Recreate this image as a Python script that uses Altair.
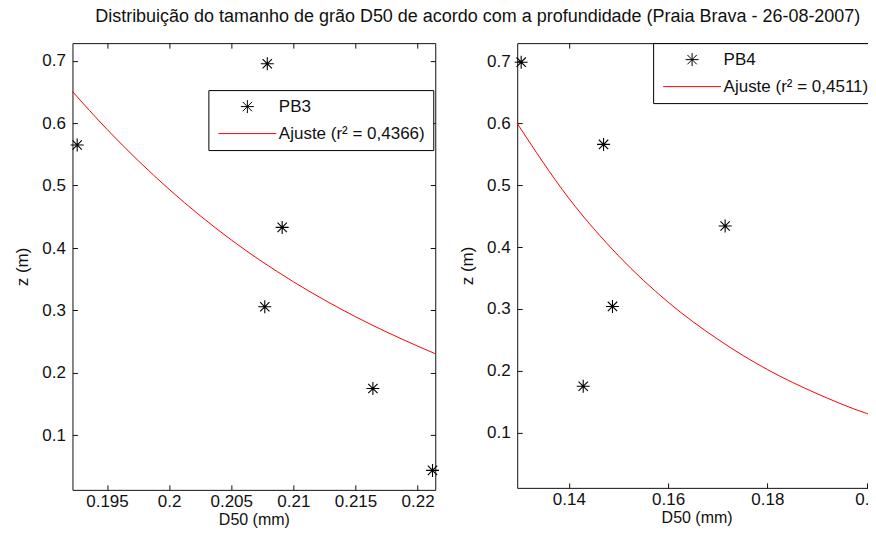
import altair as alt
import pandas as pd

FONT = "Liberation Sans"
TITLE = "Distribuição do tamanho de grão D50 de acordo com a profundidade (Praia Brava - 26-08-2007)"

# ---- PB3 (left panel) ----
pb3_name = "PB3"
pb3_fit_name = "Ajuste (r² = 0,4366)"
pb3_d50 = [0.1926, 0.2079, 0.2091, 0.2077, 0.2164, 0.2212]
pb3_z = [0.565, 0.695, 0.433, 0.306, 0.175, 0.044]
pb3_fit_d50 = [0.1922, 0.195, 0.200, 0.205, 0.210, 0.215, 0.220, 0.2214]
pb3_fit_z = [0.651, 0.590, 0.494, 0.413, 0.346, 0.290, 0.243, 0.231]
pb3_xticks = [0.195, 0.2, 0.205, 0.21, 0.215, 0.22]
pb3_xdomain = [0.19222, 0.22142]
pb3_ydomain = [0.0128, 0.728]

# ---- PB4 (right panel) ----
pb4_name = "PB4"
pb4_fit_name = "Ajuste (r² = 0,4511)"
pb4_d50 = [0.1304, 0.1470, 0.1715, 0.1488, 0.1429, 0.2017]
pb4_z = [0.699, 0.566, 0.434, 0.304, 0.175, 0.044]
pb4_fit_d50 = [0.1296, 0.14, 0.15, 0.16, 0.17, 0.18, 0.19, 0.20, 0.2019]
pb4_fit_z = [0.600, 0.479, 0.386, 0.311, 0.251, 0.202, 0.163, 0.131, 0.126]
pb4_xticks = [0.14, 0.16, 0.18, 0.2]
pb4_xdomain = [0.1296, 0.2019]
pb4_ydomain = [0.0106, 0.7298]

yticks = [0.1, 0.2, 0.3, 0.4, 0.5, 0.6, 0.7]

ASTERISK = "M-1,0L1,0M0,-1L0,1M-0.72,-0.72L0.72,0.72M-0.72,0.72L0.72,-0.72"
LEGLINE = "M-4.45,0L4.45,0"
INK = "#111111"
FS = 17


def panel(d50, z, fit_d50, fit_z, name, fit_name, xticks, xdom, ydom, W, H, lx, ly, right_border):
    pts = pd.DataFrame({"D50": d50, "z": z, "serie": name})
    fit = pd.DataFrame({"D50": fit_d50, "z": fit_z})
    xs = alt.Scale(domain=xdom, nice=False, zero=False)
    ys = alt.Scale(domain=ydom, nice=False, zero=False)
    leg = alt.Legend(
        title=None, titlePadding=0, orient="none", legendX=lx, legendY=ly,
        fillColor="white", strokeColor="black", padding=8, cornerRadius=0,
        symbolOffset=22.5, labelOffset=23, rowPadding=9, symbolSize=169,
        symbolStrokeWidth=1, labelFont=FONT, labelFontSize=FS,
        labelColor=INK, labelLimit=300,
    )
    points = alt.Chart(pts).mark_point(filled=False, size=169, strokeWidth=1.1, opacity=1).encode(
        x=alt.X("D50:Q", scale=xs, axis=alt.Axis(
            orient="bottom", values=xticks, format="~g", title="D50 (mm)",
            ticks=False, tickSize=0, labelPadding=4, titlePadding=2,
            labelFontSize=17, titleFontSize=16, domain=True)),
        y=alt.Y("z:Q", scale=ys, axis=alt.Axis(
            orient="left", values=yticks, format=".1f", title="z (m)",
            ticks=False, tickSize=0, labelPadding=7, titlePadding=10, domain=True)),
        color=alt.Color("serie:N", scale=alt.Scale(domain=[name, fit_name], range=["black", "red"]), legend=leg),
        shape=alt.Shape("serie:N", scale=alt.Scale(domain=[name, fit_name], range=[ASTERISK, LEGLINE]), legend=leg),
    )
    line = alt.Chart(fit).mark_line(color="red", strokeWidth=1, interpolate="monotone").encode(
        x=alt.X("D50:Q", scale=xs, axis=alt.Axis(
            orient="top", offset=-H, values=xticks, labels=False, domain=False,
            ticks=True, tickSize=5, title=None)),
        y=alt.Y("z:Q", scale=ys, axis=alt.Axis(
            orient="right", offset=-W, values=yticks, labels=False, domain=False,
            ticks=True, tickSize=5, title=None)),
    )
    frame = alt.Chart(pts).mark_point(opacity=0).encode(
        x=alt.X("D50:Q", scale=xs, axis=alt.Axis(
            orient="bottom", offset=-H, values=xticks, labels=False, domain=True,
            ticks=True, tickSize=5, title=None)),
        y=alt.Y("z:Q", scale=ys, axis=alt.Axis(
            orient="left", offset=-W, values=yticks, labels=False, domain=right_border,
            ticks=True, tickSize=5, title=None)),
    )
    return alt.layer(frame, line, points).resolve_axis(
        x="independent", y="independent"
    ).properties(width=W, height=H)


left = panel(pb3_d50, pb3_z, pb3_fit_d50, pb3_fit_z, pb3_name, pb3_fit_name,
             pb3_xticks, pb3_xdomain, pb3_ydomain, 363, 447, 136, 47, True)
right = panel(pb4_d50, pb4_z, pb4_fit_d50, pb4_fit_z, pb4_name, pb4_fit_name,
              pb4_xticks, pb4_xdomain, pb4_ydomain, 359, 445, 136, 0, False)

chart = alt.hconcat(left, right, spacing=82, bounds="flush").resolve_scale(
    color="independent", shape="independent"
).properties(
    title=alt.TitleParams(TITLE, font=FONT, fontSize=18, fontWeight="normal",
                          color=INK, anchor="middle", frame="bounds", dx=29, offset=16),
    padding={"left": 4.5, "top": 0, "right": -17, "bottom": 0},
).configure_view(stroke="transparent").configure_axis(
    domainColor=INK, tickColor=INK, labelColor=INK, titleColor=INK,
    labelFont=FONT, titleFont=FONT, labelFontSize=FS, titleFontSize=FS,
    titleFontWeight="normal", grid=False, domainWidth=1, tickWidth=1,
)

chart.save("out.html", embed_options={"renderer": "svg", "actions": False})
